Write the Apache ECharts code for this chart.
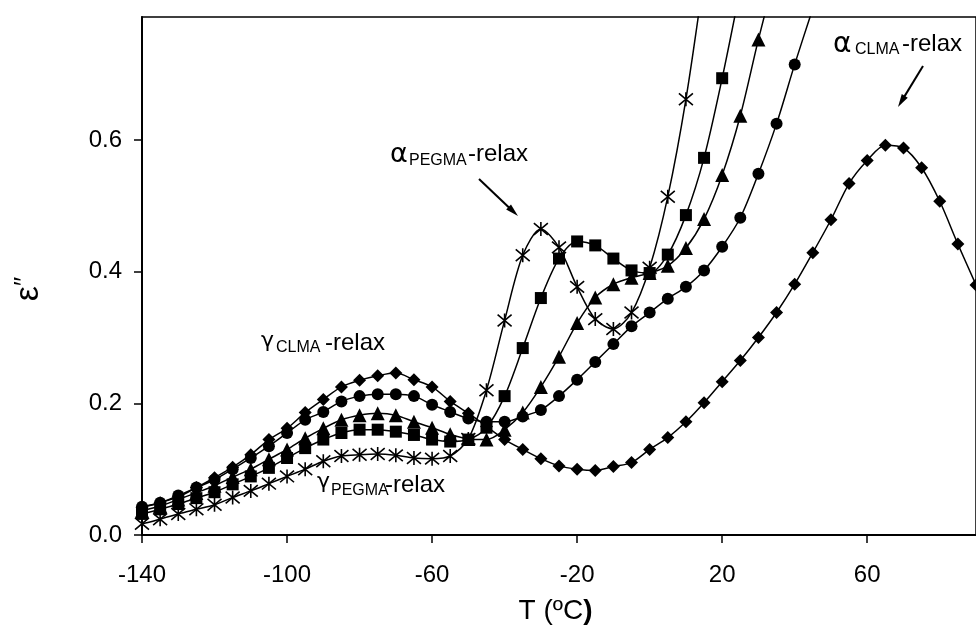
<!DOCTYPE html>
<html>
<head>
<meta charset="utf-8">
<script src="https://cdn.jsdelivr.net/npm/echarts@6/dist/echarts.min.js"></script>
<style>
  html, body { margin: 0; padding: 0; background: #fff; }
  #chart { width: 976px; height: 630px; }
</style>
</head>
<body>
<div id="chart"></div>
<script>
// temperatures (ºC), one point every 5 degrees
const temps = [-140, -135, -130, -125, -120, -115, -110, -105, -100, -95, -90, -85, -80, -75, -70, -65,
  -60, -55, -50, -45, -40, -35, -30, -25, -20, -15, -10, -5, 0, 5, 10, 15, 20, 25, 30, 35, 40, 45,
  50, 55, 60, 65, 70, 75, 80, 85, 90]

// eps'', each series starts at -140
const diamondVals = [0.042, 0.049, 0.058, 0.072, 0.087, 0.103, 0.122, 0.145, 0.162,
  0.186, 0.206, 0.225, 0.235, 0.242, 0.246, 0.236, 0.225, 0.203,
  0.185, 0.165, 0.145, 0.130, 0.116, 0.105, 0.100, 0.098, 0.104,
  0.110, 0.130, 0.148, 0.172, 0.201, 0.233, 0.265, 0.300, 0.338,
  0.381, 0.429, 0.479, 0.534, 0.569, 0.592, 0.588, 0.558, 0.507,
  0.442, 0.380]
const circleVals = [0.043, 0.049, 0.060, 0.072, 0.084, 0.100, 0.117, 0.135, 0.155,
  0.175, 0.187, 0.203, 0.211, 0.214, 0.214, 0.211, 0.198, 0.187,
  0.177, 0.172, 0.172, 0.180, 0.190, 0.211, 0.236, 0.263, 0.290,
  0.317, 0.338, 0.359, 0.377, 0.402, 0.438, 0.482, 0.549, 0.625,
  0.715, 0.800]
const triangleVals = [0.037, 0.044, 0.054, 0.064, 0.075, 0.088, 0.100, 0.115, 0.130,
  0.147, 0.162, 0.175, 0.182, 0.185, 0.182, 0.172, 0.163, 0.153,
  0.146, 0.145, 0.160, 0.186, 0.225, 0.271, 0.322, 0.361, 0.381,
  0.391, 0.398, 0.409, 0.436, 0.480, 0.547, 0.637, 0.753, 0.860]
const squareVals = [0.032, 0.039, 0.047, 0.056, 0.065, 0.077, 0.089, 0.102, 0.117,
  0.132, 0.145, 0.155, 0.160, 0.160, 0.157, 0.152, 0.145, 0.142,
  0.145, 0.163, 0.211, 0.284, 0.360, 0.420, 0.446, 0.440, 0.420,
  0.402, 0.398, 0.426, 0.486, 0.573, 0.694, 0.830]
const starVals = [0.017, 0.024, 0.032, 0.039, 0.046, 0.057, 0.067, 0.078, 0.089,
  0.100, 0.112, 0.120, 0.122, 0.123, 0.121, 0.117, 0.116, 0.120,
  0.146, 0.220, 0.326, 0.425, 0.465, 0.437, 0.377, 0.328, 0.313,
  0.338, 0.406, 0.514, 0.662, 0.850]

const xTicks = [-140, -100, -60, -20, 20, 60]
const yTicks = [0, 0.2, 0.4, 0.6]

const FONT = '"Liberation Sans", Arial, Helvetica, sans-serif'
const GREEK = '"DejaVu Sans", sans-serif'
const STAR = 'path://M0,1L10,11M10,1L0,11M5,0L5,12'

const toPairs = vals => vals.map((v, i) => [temps[i], v])

const makeSeries = (name, symbol, size, vals, extra = {}) => ({
  name,
  type: 'line',
  data: toPairs(vals),
  symbol,
  symbolSize: size,
  smooth: 0.3,
  clip: true,
  animation: false,
  lineStyle: { color: '#000', width: 1.5 },
  itemStyle: { color: '#000' },
  ...extra
})

// annotation helpers (pixel placement of the labels and arrows)
const txt = (x, baseline, text, size, family = FONT) => ({
  type: 'text', x, y: baseline - size * 0.34, silent: true,
  style: { text, fill: '#000', font: `${size}px ${family}`, verticalAlign: 'middle' }
})
const arrow = (x1, y1, x2, y2) => {
  const a = Math.atan2(y2 - y1, x2 - x1), len = 13, half = 3.5
  const bx = x2 - len * Math.cos(a), by = y2 - len * Math.sin(a)
  const nx = -Math.sin(a) * half, ny = Math.cos(a) * half
  return [
    { type: 'line', silent: true, shape: { x1, y1, x2: bx + 2 * Math.cos(a), y2: by + 2 * Math.sin(a) }, style: { stroke: '#000', lineWidth: 2 } },
    { type: 'polygon', silent: true, shape: { points: [[x2, y2], [bx + nx, by + ny], [bx - nx, by - ny]] }, style: { fill: '#000' } }
  ]
}

const chart = echarts.init(document.getElementById('chart'))

const option = {
  backgroundColor: '#fff',
  animation: false,
  grid: {
    left: 142, right: -5.5, top: 17, bottom: 90.7,
    show: true, borderColor: '#000', borderWidth: 1.5
  },
  xAxis: {
    type: 'value',
    min: -140, max: 90, interval: 40,
    name: '{n|T (ºC}{b|)}',
    nameLocation: 'middle',
    nameGap: 62,
    nameTextStyle: {
      padding: [0, 7, 0, 0],
      rich: {
        n: { fontFamily: FONT, fontSize: 28, color: '#000' },
        b: { fontFamily: FONT, fontSize: 28, fontWeight: 'bold', color: '#000' }
      }
    },
    axisLine: { onZero: false, lineStyle: { color: '#000', width: 2 } },
    axisTick: { length: 8, lineStyle: { color: '#000', width: 1.5 }, customValues: xTicks },
    axisLabel: { margin: 28, color: '#000', fontFamily: FONT, fontSize: 24, customValues: xTicks },
    splitLine: { show: false }
  },
  yAxis: {
    type: 'value',
    min: 0, max: 0.787, interval: 0.2,
    name: '{e|ε}{p|″}',
    nameLocation: 'middle',
    nameRotate: 90,
    nameGap: 96,
    nameTextStyle: {
      padding: [0, 26, 0, 0],
      rich: {
        e: { fontFamily: FONT, fontSize: 34, color: '#000' },
        p: { fontFamily: FONT, fontSize: 26, color: '#000', verticalAlign: 'top' }
      }
    },
    axisLine: { onZero: false, lineStyle: { color: '#000', width: 2 } },
    axisTick: { length: 8, lineStyle: { color: '#000', width: 1.5 }, customValues: yTicks },
    axisLabel: {
      margin: 20, color: '#000', fontFamily: FONT, fontSize: 24,
      customValues: yTicks,
      formatter: v => v.toFixed(1)
    },
    splitLine: { show: false }
  },
  series: [
    makeSeries('diamond', 'diamond', 13, diamondVals),
    makeSeries('circle', 'circle', 12, circleVals),
    makeSeries('triangle', 'triangle', 14, triangleVals),
    makeSeries('square', 'rect', 12, squareVals),
    makeSeries('star', STAR, 14, starVals, {
      itemStyle: { color: '#000', borderColor: '#000', borderWidth: 1.6 }
    })
  ],
  graphic: [
    txt(390, 164, 'α', 27, GREEK), txt(409, 165.7, 'PEGMA', 16), txt(468, 162.3, '-relax', 24),
    ...arrow(479, 179, 518, 216),
    txt(833, 54, 'α', 28, GREEK), txt(855, 55, 'CLMA', 16), txt(902, 52.7, '-relax', 24),
    ...arrow(923, 66, 898, 107),
    txt(261, 349, 'γ', 22, GREEK), txt(276, 353.3, 'CLMA', 16), txt(325, 351.7, '-relax', 24),
    txt(317, 490, 'γ', 22, GREEK), txt(331, 495.7, 'PEGMA', 16), txt(385, 493.3, '-relax', 24)
  ]
}

chart.setOption(option)
</script>
</body>
</html>
